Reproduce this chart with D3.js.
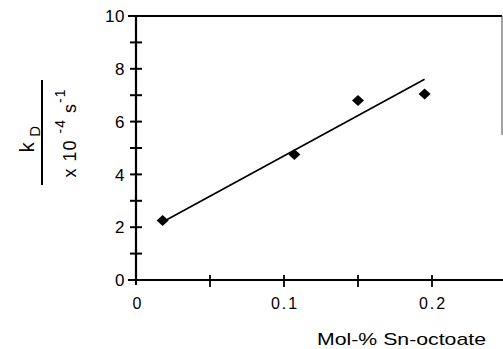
<!DOCTYPE html>
<html lang="en">
<head>
  <meta charset="UTF-8" />
  <title>kD vs Sn-octoate</title>
  <script src="https://d3js.org/d3.v7.min.js"></script>
  <style>
    body { margin: 0; background: #fff; }
    svg { display: block; }
    text { font-family: "Liberation Sans", Arial, sans-serif; fill: #000; }
  </style>
</head>
<body>
  <div id="chart"></div>
  <script>
    // data
    const molPct = [0.018, 0.107, 0.150, 0.195];
    const kD = [2.25, 4.75, 6.8, 7.05];
    const fitX = [0.018, 0.195];
    const fitY = [2.2, 7.6];
    const xTickLabels = [0, 0.1, 0.2];
    const yTickLabels = [0, 2, 4, 6, 8, 10];

    const width = 503, height = 349;
    const svg = d3.select("#chart").append("svg")
      .attr("width", width).attr("height", height);

    const x = d3.scaleLinear().domain([0, 0.25]).range([136, 506]);
    const y = d3.scaleLinear().domain([0, 10]).range([280, 16]);

    // frame
    svg.append("line").attr("x1", x(0)).attr("x2", 502).attr("y1", y(10)).attr("y2", y(10))
      .attr("stroke", "#000").attr("stroke-width", 2);
    svg.append("line").attr("x1", 502).attr("x2", 502).attr("y1", y(10)).attr("y2", 135)
      .attr("stroke", "#444").attr("stroke-width", 1);
    svg.append("line").attr("x1", x(0)).attr("x2", 503).attr("y1", y(0)).attr("y2", y(0))
      .attr("stroke", "#000").attr("stroke-width", 2);
    svg.append("line").attr("x1", x(0)).attr("x2", x(0)).attr("y1", y(10)).attr("y2", y(0) + 5)
      .attr("stroke", "#000").attr("stroke-width", 2.2);

    // y ticks
    svg.append("g").selectAll("line").data(d3.range(0, 11))
      .join("line")
      .attr("x1", d => (d === 0 || d === 10) ? x(0) - 8 : x(0) - 6)
      .attr("x2", d => (d === 0 || d === 10) ? x(0) : x(0) + 6)
      .attr("y1", d => y(d)).attr("y2", d => y(d))
      .attr("stroke", "#000").attr("stroke-width", 2);

    svg.append("g").selectAll("text").data(yTickLabels)
      .join("text")
      .attr("x", x(0) - 11)
      .attr("y", d => y(d))
      .attr("dy", "0.36em")
      .attr("text-anchor", "end")
      .attr("font-size", 17)
      .attr("letter-spacing", 0.5)
      .text(d => d);

    // x ticks
    svg.append("g").selectAll("line").data([0.05, 0.1, 0.15, 0.2])
      .join("line")
      .attr("x1", d => x(d)).attr("x2", d => x(d))
      .attr("y1", y(0) - 5).attr("y2", y(0) + 7)
      .attr("stroke", "#000").attr("stroke-width", 1.8);

    svg.append("g").selectAll("text").data(xTickLabels)
      .join("text")
      .attr("x", d => x(d) + 1)
      .attr("y", 309)
      .attr("text-anchor", "middle")
      .attr("font-size", 16)
      .attr("letter-spacing", d => d === 0 ? 0 : 2)
      .text(d => d === 0 ? "0" : String(d));

    // fit line
    svg.append("path")
      .datum(fitX.map((d, i) => [d, fitY[i]]))
      .attr("d", d3.line().x(d => x(d[0])).y(d => y(d[1])))
      .attr("fill", "none").attr("stroke", "#000").attr("stroke-width", 1.7);

    // points
    svg.append("g").selectAll("path").data(molPct.map((d, i) => [d, kD[i]]))
      .join("path")
      .attr("d", d => {
        const cx = x(d[0]), cy = y(d[1]);
        return `M${cx - 6},${cy}L${cx},${cy - 5.5}L${cx + 6},${cy}L${cx},${cy + 5.5}Z`;
      })
      .attr("fill", "#000");

    // x title
    svg.append("text")
      .attr("x", 317).attr("y", 345)
      .attr("font-size", 17)
      .attr("textLength", 169)
      .attr("lengthAdjust", "spacingAndGlyphs")
      .text("Mol-% Sn-octoate");

    // y title as a fraction
    svg.append("line").attr("x1", 42).attr("x2", 42).attr("y1", 80).attr("y2", 185)
      .attr("stroke", "#000").attr("stroke-width", 2);

    const num = svg.append("text")
      .attr("transform", "translate(34,139) rotate(-90)")
      .attr("text-anchor", "middle")
      .attr("font-size", 20);
    num.append("tspan").text("k  ");
    num.append("tspan").attr("dy", 6).attr("font-size", 15).text("D");

    const den = svg.append("text")
      .attr("transform", "translate(76,133) rotate(-90)")
      .attr("text-anchor", "middle")
      .attr("font-size", 18)
      .attr("letter-spacing", 1);
    den.append("tspan").text("x 10  ");
    den.append("tspan").attr("dy", -11).attr("font-size", 14).text("-4");
    den.append("tspan").attr("dy", 11).text("  s");
    den.append("tspan").attr("dy", -11).attr("font-size", 14).text("-1");
  </script>
</body>
</html>
